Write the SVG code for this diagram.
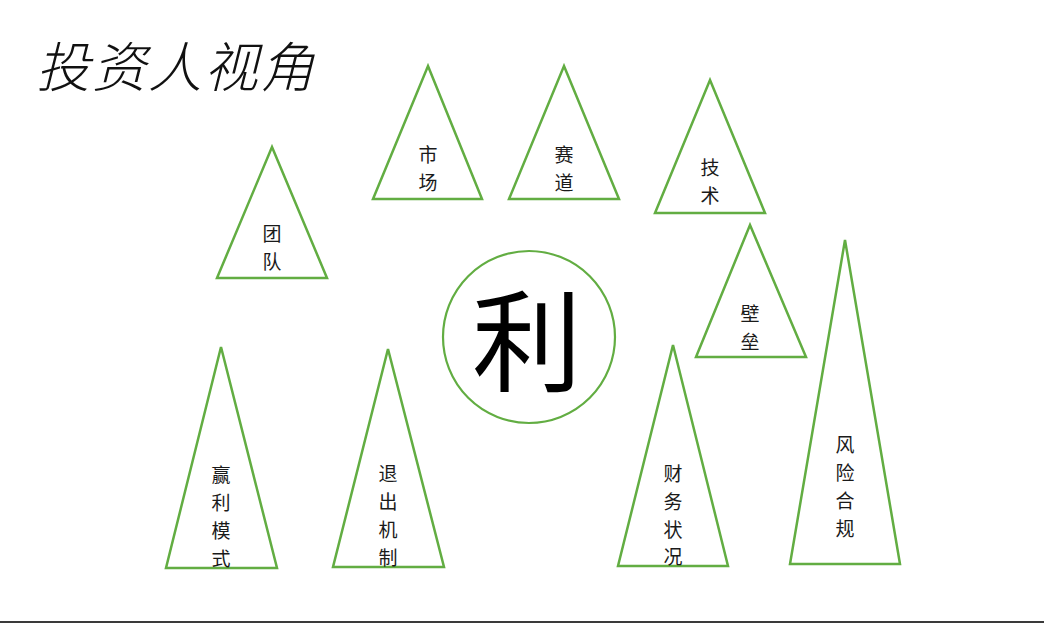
<svg xmlns="http://www.w3.org/2000/svg" width="1044" height="623" viewBox="0 0 1044 623">
<style>
.tri{fill:#fff;stroke:#62ad42;stroke-width:2.5;stroke-linejoin:miter}
.lbl{font-family:"Noto Sans CJK SC","Noto Sans",sans-serif;font-size:19px;fill:#1a1a1a;text-anchor:middle;dominant-baseline:central}
.title{font-family:"Noto Sans CJK SC","Noto Sans",sans-serif;font-size:54px;font-weight:300;font-style:italic;fill:#111;letter-spacing:2px}
</style>
<rect width="1044" height="623" fill="#fff"/>
<text class="title" x="36" y="87">投资人视角</text>
<g id="connectors"></g>
<g id="node-team"><polygon class="tri" points="272,147 327,278 217,278"/><text class="lbl" x="272" y="232">团</text><text class="lbl" x="272" y="260">队</text></g>
<g id="node-market"><polygon class="tri" points="428,66 482,199 373,199"/><text class="lbl" x="428" y="153">市</text><text class="lbl" x="428" y="181">场</text></g>
<g id="node-track"><polygon class="tri" points="564,66 619,199 509,199"/><text class="lbl" x="564" y="153">赛</text><text class="lbl" x="564" y="181">道</text></g>
<g id="node-tech"><polygon class="tri" points="710,80 765,213 655,213"/><text class="lbl" x="710" y="166">技</text><text class="lbl" x="710" y="194">术</text></g>
<g id="node-barrier"><polygon class="tri" points="750,225 806,357 696,357"/><text class="lbl" x="750" y="312">壁</text><text class="lbl" x="750" y="340">垒</text></g>
<g id="node-center"><circle cx="529" cy="337" r="86" fill="#fff" stroke="#62ad42" stroke-width="2.2"/><text x="527" y="335" text-anchor="middle" dominant-baseline="central" font-family="'Noto Sans CJK SC',sans-serif" font-size="110" fill="#000">利</text></g>
<g id="node-profit"><polygon class="tri" points="221,347 277,568 166,568"/><text class="lbl" x="221" y="473">赢</text><text class="lbl" x="221" y="501">利</text><text class="lbl" x="221" y="529">模</text><text class="lbl" x="221" y="557">式</text></g>
<g id="node-exit"><polygon class="tri" points="388,349 444,567 333,567"/><text class="lbl" x="388" y="472">退</text><text class="lbl" x="388" y="500">出</text><text class="lbl" x="388" y="528">机</text><text class="lbl" x="388" y="556">制</text></g>
<g id="node-finance"><polygon class="tri" points="673,345 728,566 618,566"/><text class="lbl" x="673" y="472">财</text><text class="lbl" x="673" y="500">务</text><text class="lbl" x="673" y="528">状</text><text class="lbl" x="673" y="555">况</text></g>
<g id="node-risk"><polygon class="tri" points="845,240 900,564 790,564"/><text class="lbl" x="845" y="443">风</text><text class="lbl" x="845" y="471">险</text><text class="lbl" x="845" y="499">合</text><text class="lbl" x="845" y="527">规</text></g>
<rect x="0" y="621" width="1044" height="2" fill="#3a3a3a"/>
</svg>
